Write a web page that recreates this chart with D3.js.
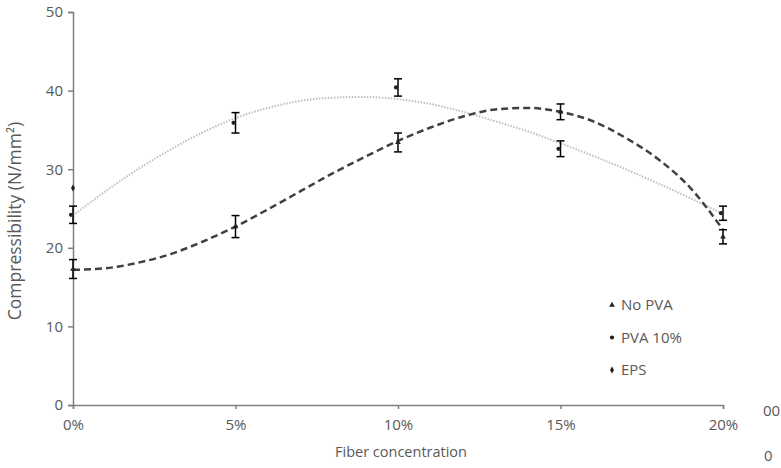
<!DOCTYPE html>
<html>
<head>
<meta charset="utf-8">
<script src="https://cdn.jsdelivr.net/npm/d3@7"></script>
<style>
  body { margin: 0; background: #fff; }
  text { font-family: "Open Sans", sans-serif; fill: #595959; }
</style>
</head>
<body>
<svg width="781" height="468"></svg>
<script>
(function () {

  // fiber concentration (%) and measured values
  var fibers = [0, 5, 10, 15, 20]
  var noPva = [17.3, 22.7, 33.4, 37.3, 21.4]
  var noPvaErr = [1.2, 1.4, 1.2, 1.0, 0.9]
  var pva10 = [24.2, 35.9, 40.4, 32.6, 24.4]
  var pva10Err = [1.1, 1.3, 1.1, 1.0, 0.9]
  var eps = [{ x: 0, y: 27.6 }]

  // trend lines (one value per 1 %)
  var trendX = [0, 1, 2, 3, 4, 5, 6, 7, 8, 9, 10, 11, 12, 13, 14, 15, 16, 17, 18, 19, 20]
  var noPvaTrend = [17.2, 17.4, 18.1, 19.2, 20.8, 22.7, 24.9, 27.2, 29.5, 31.6, 33.6, 35.3, 36.7, 37.6, 37.8, 37.3, 36.1, 34.0, 31.3, 27.6, 22.3]
  var pvaTrend = [24.1, 27.2, 30.0, 32.5, 34.7, 36.5, 37.8, 38.7, 39.1, 39.2, 38.9, 38.3, 37.3, 36.1, 34.8, 33.3, 31.7, 30.0, 28.2, 26.3, 24.3]

  var yTicks = [0, 10, 20, 30, 40, 50]
  var legendNames = ['No PVA', 'PVA 10%', 'EPS']

  var svg = d3.select('svg')

  var x = d3.scaleLinear().domain([0, 20]).range([73, 723])
  var y = d3.scaleLinear().domain([0, 50]).range([405, 12])

  // axes
  var yAxis = svg.append('g')
    .attr('transform', 'translate(73,0)')
    .call(d3.axisLeft(y).tickValues(yTicks).tickSize(5).tickPadding(5))
  var xAxis = svg.append('g')
    .attr('transform', 'translate(0,405)')
    .call(d3.axisBottom(x).tickValues(fibers).tickSize(4).tickPadding(10)
      .tickFormat(function (d) { return d + '%' }))

  ;[xAxis, yAxis].forEach(function (g) {
    g.selectAll('path, line').attr('stroke', '#7f7f7f').attr('stroke-width', 1.5)
    g.selectAll('text').attr('font-size', 15).attr('fill', '#595959')
      .attr('font-family', '"Open Sans", sans-serif')
  })

  var line = d3.line()
    .x(function (d) { return x(d[0]) })
    .y(function (d) { return y(d[1]) })
    .curve(d3.curveMonotoneX)

  svg.append('path')
    .datum(d3.zip(trendX, pvaTrend))
    .attr('d', line)
    .attr('fill', 'none')
    .attr('stroke', '#bfbfbf')
    .attr('stroke-width', 2)
    .attr('stroke-dasharray', '1.5,1.5')

  svg.append('path')
    .datum(d3.zip(trendX, noPvaTrend))
    .attr('d', line)
    .attr('fill', 'none')
    .attr('stroke', '#404040')
    .attr('stroke-width', 2.5)
    .attr('stroke-dasharray', '7,4')

  // error bars
  function errorBars(vals, errs) {
    var data = fibers.map(function (f, i) { return { x: f, y: vals[i], e: errs[i] } })
    var g = svg.append('g').attr('stroke', '#000').attr('stroke-width', 1.5)
    g.selectAll('.v').data(data).enter().append('line')
      .attr('x1', function (d) { return x(d.x) })
      .attr('x2', function (d) { return x(d.x) })
      .attr('y1', function (d) { return y(d.y - d.e) })
      .attr('y2', function (d) { return y(d.y + d.e) })
    ;[-1, 1].forEach(function (s) {
      g.selectAll('.c' + s).data(data).enter().append('line')
        .attr('x1', function (d) { return x(d.x) - 4 })
        .attr('x2', function (d) { return x(d.x) + 4 })
        .attr('y1', function (d) { return y(d.y + s * d.e) })
        .attr('y2', function (d) { return y(d.y + s * d.e) })
    })
  }
  errorBars(noPva, noPvaErr)
  errorBars(pva10, pva10Err)

  // markers
  var triangle = d3.symbol().type(d3.symbolTriangle).size(14)
  var circle = d3.symbol().type(d3.symbolCircle).size(14)
  var diamond = d3.symbol().type(d3.symbolDiamond).size(14)

  svg.selectAll('.np').data(fibers).enter().append('path')
    .attr('d', triangle)
    .attr('transform', function (d, i) { return 'translate(' + x(d) + ',' + y(noPva[i]) + ')' })
    .attr('fill', '#222')
  svg.selectAll('.pv').data(fibers).enter().append('path')
    .attr('d', circle)
    .attr('transform', function (d, i) { return 'translate(' + (x(d) - 2) + ',' + y(pva10[i]) + ')' })
    .attr('fill', '#222')
  svg.selectAll('.ep').data(eps).enter().append('path')
    .attr('d', diamond)
    .attr('transform', function (d) { return 'translate(' + x(d.x) + ',' + y(d.y) + ')' })
    .attr('fill', '#222')

  // legend
  var shapes = [triangle, circle, diamond]
  var leg = svg.selectAll('.leg').data(legendNames).enter().append('g')
    .attr('transform', function (d, i) { return 'translate(612,' + (305 + i * 32.5) + ')' })
  leg.append('path')
    .attr('d', function (d, i) { return shapes[i]() })
    .attr('fill', '#222')
  leg.append('text')
    .attr('x', 9).attr('y', 5)
    .attr('font-size', 15)
    .text(function (d) { return d })

  // axis titles
  svg.append('text')
    .attr('transform', 'translate(21,221) rotate(-90)')
    .attr('text-anchor', 'middle')
    .attr('font-size', 17.5)
    .text('Compressibility (N/mm²)')
  svg.append('text')
    .attr('x', 401).attr('y', 457)
    .attr('text-anchor', 'middle')
    .attr('font-size', 14.5)
    .text('Fiber concentration')

  // clipped labels at the right edge
  svg.append('text').attr('x', 763).attr('y', 416).attr('font-size', 15).text('00')
  svg.append('text').attr('x', 764).attr('y', 461).attr('font-size', 15).text('0')

})()
</script>
</body>
</html>
